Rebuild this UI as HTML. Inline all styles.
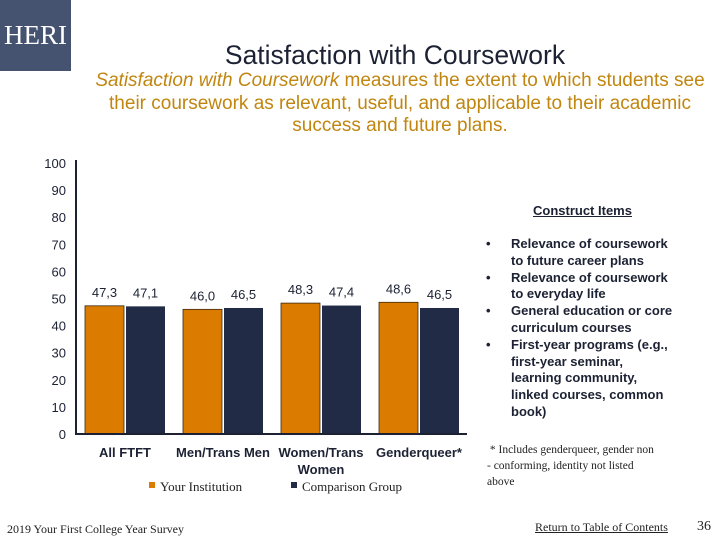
<!DOCTYPE html>
<html><head><meta charset="utf-8"><style>
body{margin:0;width:720px;height:540px;background:#fff;position:relative;overflow:hidden;font-family:"Liberation Sans",sans-serif}
.a{position:absolute}
</style></head><body>
<div class="a" style="left:0;top:0;width:71px;height:71px;background:#465370;color:#fff;font-family:'Liberation Serif',serif;font-size:27px;line-height:71px;text-align:center">HERI</div>
<div class="a" style="left:130px;top:40px;width:530px;text-align:center;font-size:26.5px;color:#1c2233">Satisfaction with Coursework</div>
<div class="a" style="left:80px;top:70px;width:640px;text-align:center;font-family:'Liberation Sans Narrow','Liberation Sans',sans-serif;font-size:19px;line-height:22.5px;color:#c0860f"><i>Satisfaction with Coursework</i> measures the extent to which students see<br>their coursework as relevant, useful, and applicable to their academic<br>success and future plans.</div>
<svg class="a" style="left:0;top:0" width="480" height="500" id="ch"></svg>
<div class="a" style="left:533px;top:203px;font-size:13px;font-weight:bold;text-decoration:underline;color:#1c2233">Construct Items</div>
<div class="a" style="left:486px;top:236px;width:215px;font-size:13px;font-weight:bold;line-height:16.8px;color:#1c2233">
<div style="position:relative;padding-left:25px">
<div><span style="position:absolute;left:0">•</span>Relevance of coursework<br>to future career plans</div>
<div><span style="position:absolute;left:0">•</span>Relevance of coursework<br>to everyday life</div>
<div><span style="position:absolute;left:0">•</span>General education or core<br>curriculum courses</div>
<div><span style="position:absolute;left:0">•</span>First-year programs (e.g.,<br>first-year seminar,<br>learning community,<br>linked courses, common<br>book)</div>
</div></div>
<div class="a" style="left:487px;top:442px;width:200px;font-family:'Liberation Serif',serif;font-size:11.5px;line-height:16px;color:#222">&nbsp;* Includes genderqueer, gender non<br>- conforming, identity not listed<br>above</div>
<div class="a" style="left:7px;top:522px;font-family:'Liberation Serif',serif;font-size:12px;color:#222">2019 Your First College Year Survey</div>
<div class="a" style="left:535px;top:520px;font-family:'Liberation Serif',serif;font-size:12px;text-decoration:underline;color:#222">Return to Table of Contents</div>
<div class="a" style="left:697px;top:519px;font-family:'Liberation Serif',serif;font-size:14px;color:#222">36</div>
<script>
const categories=["All FTFT","Men/Trans Men","Women/Trans Women","Genderqueer*"];
const institution=[47.3,46.0,48.3,48.6];
const comparison=[47.1,46.5,47.4,46.5];
const ticks=[0,10,20,30,40,50,60,70,80,90,100];
const NS="http://www.w3.org/2000/svg",svg=document.getElementById('ch');
const y0=434,y1=163,xL=76,xR=467,gw=98,bw=39;
const yS=v=>y0-(y0-y1)*v/100;
function mk(t,at){const e=document.createElementNS(NS,t);for(const k in at)e.setAttribute(k,at[k]);svg.appendChild(e);return e;}
ticks.forEach(t=>{const e=mk('text',{x:66,y:yS(t)+5,'text-anchor':'end','font-size':13,fill:'#1c2233'});e.textContent=t;

});
categories.forEach((c,i)=>{
 const cx=xL+49+i*gw;
 [[institution[i],'#db7b00',cx-40],[comparison[i],'#212b45',cx+1]].forEach(([v,col,x],j)=>{
  const r=mk('rect',{x:x,y:yS(v),width:bw,height:y0-yS(v),fill:col,stroke:j?'none':'#3a2a10','stroke-width':j?0:0.8});
  
  
  const t=mk('text',{x:x+bw/2,y:yS(v)-9,'text-anchor':'middle','font-size':13,fill:'#1c2233'});t.textContent=v.toFixed(1).replace('.',',');
  
  
 });
 const parts=c==="Women/Trans Women"?["Women/Trans","Women"]:[c];
 parts.forEach((p,k)=>{const t=mk('text',{x:cx,y:457+k*17,'text-anchor':'middle','font-size':13,'font-weight':'bold',fill:'#1c2233'});t.textContent=p;
 
 });
});
const ax=mk('path',{d:`M${xL},${y1-3}V${y0}H${xR}`,stroke:'#1c2233','stroke-width':2,fill:'none'});


[['#db7b00',149,'Your Institution'],['#212b45',291,'Comparison Group']].forEach(([c,x,l])=>{
 const r=mk('rect',{x:x,y:482,width:6,height:6,fill:c});
 
 
 const t=mk('text',{x:x+11,y:491,'font-size':13,'font-family':'Liberation Serif',fill:'#222'});t.textContent=l;
 
 
});
</script>
</body></html>
